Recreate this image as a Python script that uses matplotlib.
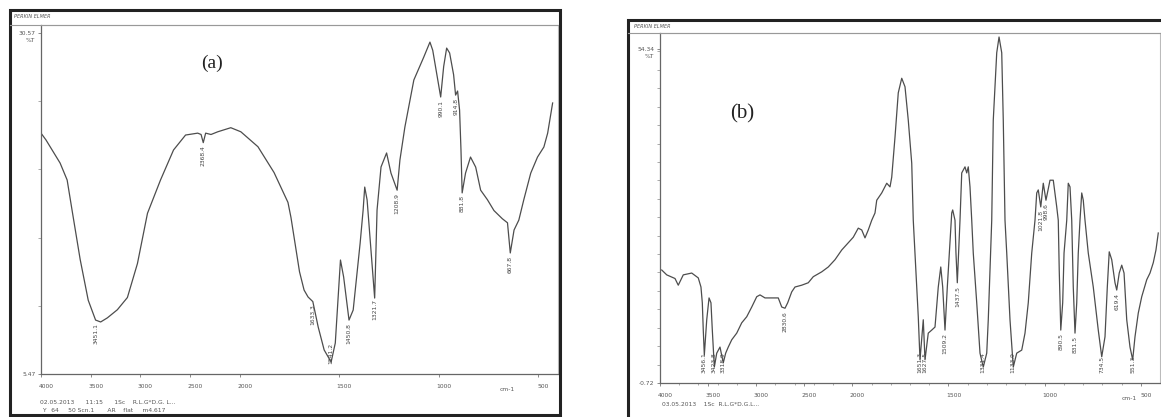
import numpy as np
import matplotlib.pyplot as plt
from matplotlib.patches import Rectangle
from matplotlib.lines import Line2D
from matplotlib.transforms import ScaledTranslation

W, H = 1161, 417

# ---- spectrum (a) ----
wn_a = [4000, 3950, 3808, 3737, 3687, 3606, 3525, 3451, 3400, 3333, 3232, 3131,
        3030, 2929, 2798, 2667, 2546, 2424, 2390, 2368, 2344, 2290, 2222, 2091,
        1995, 1909, 1828, 1758, 1743, 1700, 1677, 1657, 1633, 1606, 1576, 1541,
        1520, 1494, 1478, 1451, 1430, 1395, 1380, 1372, 1360, 1322, 1310, 1290,
        1262, 1240, 1209, 1195, 1170, 1125, 1075, 1044, 1030, 990, 975, 960,
        945, 925, 915, 905, 895, 888, 882, 865, 840, 814, 789, 755, 722, 680,
        654, 640, 621, 597, 572, 537, 503, 471, 452, 427]
t_a = [23.2, 22.7, 21.0, 19.75, 17.5, 13.9, 10.9, 9.44, 9.3, 9.6, 10.2, 11.1,
       13.6, 17.3, 19.75, 21.96, 23.06, 23.2, 23.1, 22.5, 23.2, 23.1, 23.3, 23.6,
       23.3, 22.2, 20.3, 18.1, 17.0, 13.0, 11.65, 11.14, 10.8, 8.93, 7.24, 6.35,
       7.75, 13.86, 12.61, 9.44, 10.18, 15.11, 17.54, 19.23, 18.28, 11.06, 17.54, 20.71,
       21.74, 20.26, 19.0, 21.22, 23.65, 27.11, 28.8, 29.9, 29.3, 25.86, 28.1, 29.46,
       29.1, 27.5, 26.0, 26.3, 24.9, 22.0, 18.8, 20.26, 21.44, 20.7, 19.0, 18.3, 17.5, 16.9,
       16.6, 14.38, 16.07, 16.8, 18.3, 20.26, 21.44, 22.18, 23.2, 25.42]
peaks_a = [3451.1, 2368.4, 1633.3, 1541.2, 1450.8, 1321.7, 1208.9, 990.1, 914.8, 881.8, 640.0]
peak_text_a = ["3451.1", "2368.4", "1633.3", "1541.2", "1450.8", "1321.7", "1208.9",
               "990.1", "914.8", "881.8", "667.8"]

# ---- spectrum (b) ----
wn_b = [3982, 3930, 3844, 3810, 3758, 3670, 3602, 3574, 3560, 3550, 3539, 3514,
        3490, 3470, 3456, 3435, 3410, 3376, 3342, 3317, 3290, 3254, 3202, 3150,
        3098, 3046, 2994, 2960, 2908, 2838, 2770, 2734, 2700, 2672, 2630, 2596,
        2526, 2458, 2406, 2318, 2250, 2180, 2110, 2042, 1995, 1969, 1951, 1934,
        1917, 1899, 1882, 1873, 1847, 1821, 1804, 1795, 1778, 1761, 1743, 1726,
        1709, 1691, 1683, 1665, 1657, 1648, 1631, 1622, 1605, 1587, 1570, 1553,
        1540, 1530, 1518, 1506, 1483, 1478, 1466, 1461, 1454, 1440, 1431, 1414,
        1405, 1397, 1388, 1379, 1371, 1353, 1336, 1319, 1301, 1293, 1284, 1275,
        1267, 1249, 1237, 1223, 1215, 1206, 1197, 1180, 1163, 1145, 1119, 1102,
        1085, 1067, 1050, 1041, 1033, 1020, 1007, 993, 972, 955, 937, 929,
        924, 916, 906, 899, 885, 877, 868, 859, 851, 842, 833, 825,
        816, 807, 799, 790, 773, 747, 721, 703, 686, 674, 664, 651,
        634, 625, 612, 599, 587, 573, 556, 542, 530, 513, 495, 469,
        452, 435, 421, 409]
t_b = [17.9, 17.1, 16.5, 15.4, 17.1, 17.4, 16.6, 15.1, 12.5, 8.0, 3.9, 9.7,
       13.3, 12.5, 8.0, 1.9, 4.2, 5.2, 2.6, 4.2, 5.2, 6.4, 7.5, 9.2,
       10.2, 11.8, 13.5, 13.8, 13.3, 13.3, 13.3, 11.8, 11.6, 12.5, 14.3, 15.1,
       15.4, 15.8, 16.8, 17.6, 18.4, 19.6, 21.2, 22.4, 23.3, 24.8, 24.5, 23.2,
       24.5, 26.1, 27.3, 29.4, 30.6, 32.2, 31.6, 33.2, 39.8, 47.1, 49.5, 48.1,
       42.6, 35.5, 26.1, 15.1, 10.2, 3.1, 9.7, 3.1, 7.5, 8.0, 8.5, 15.1,
       18.4, 15.1, 8.0, 15.1, 27.3, 27.8, 26.1, 20.7, 15.8, 26.1, 33.9, 34.9,
       33.9, 34.9, 31.6, 26.1, 20.7, 12.5, 4.2, 1.9, 4.2, 9.7, 17.9, 26.1,
       42.6, 53.7, 56.3, 53.7, 42.6, 26.1, 20.7, 9.7, 1.9, 4.2, 4.7, 7.5,
       12.5, 20.7, 26.1, 30.6, 31.1, 28.3, 32.2, 29.4, 32.7, 32.7, 28.3, 26.1,
       17.9, 8.0, 12.5, 20.7, 26.1, 32.2, 31.6, 26.1, 15.1, 7.5, 12.5, 20.7,
       26.1, 30.6, 29.4, 26.1, 20.7, 15.1, 8.0, 3.6, 6.9, 15.1, 20.9, 19.6,
       15.8, 14.6, 17.4, 18.7, 17.4, 9.7, 5.2, 3.1, 6.9, 10.8, 13.5, 16.3,
       17.4, 19.1, 21.2, 24.0]
peaks_b = [3539, 3435, 3342, 2700, 1648, 1622, 1518, 1454, 1319, 1163, 1020, 993,
           916, 842, 703, 625, 542]
peak_text_b = ["3456.1", "3423.8", "3318.9", "2830.6", "1651.3", "1627.5", "1509.2",
               "1437.5", "1331.4", "1133.9", "1021.8", "998.6", "890.5", "831.5",
               "734.5", "619.4", "551.3"]

xticks = [4000, 3500, 3000, 2500, 2000, 1500, 1000, 500]
xtick_labels = ["4000", "3500", "3000", "2500", "2000", "1500", "1000", "500"]


def fwd(w):
    w = np.asarray(w, dtype=float)
    return np.where(w >= 2000, w + 2000, 2 * w)


def inv(s):
    s = np.asarray(s, dtype=float)
    return np.where(s >= 4000, s - 2000, s / 2)


def px_box(x0, y0, x1, y1):
    return [x0 / W, 1 - y1 / H, (x1 - x0) / W, (y1 - y0) / H]


def fig_line(x0, y0, x1, y1, **kw):
    fig.add_artist(Line2D([x0 / W, x1 / W], [1 - y0 / H, 1 - y1 / H],
                          transform=fig.transFigure, **kw))


def fig_text(x, y, s, **kw):
    fig.text(x / W, 1 - y / H, s, **kw)


fig = plt.figure(figsize=(W / 100, H / 100), dpi=100)

gray = "#555555"
small = dict(fontsize=4.3, color="#555555", family="DejaVu Sans")


def setup(ax, ylo, yhi, ytop_lab, cm_pos, minor_y=None, minor_x=None):
    ax.set_xscale("function", functions=(fwd, inv))
    ax.set_xlim(4000, 400)
    ax.set_ylim(ylo, yhi)
    for s in ["top", "right"]:
        ax.spines[s].set_color("#bbbbbb")
        ax.spines[s].set_linewidth(0.8)
    for s in ["left", "bottom"]:
        ax.spines[s].set_color("#666666")
        ax.spines[s].set_linewidth(0.9)
    ax.set_xticks(xticks)
    ax.set_xticklabels(xtick_labels, fontsize=4.3, color=gray)
    ax.tick_params(axis="x", length=2.5, width=0.6, color="#777777", pad=5)
    ax.set_yticks([ylo, ytop_lab])
    ax.set_yticklabels([f"{ylo:.2f}", f"{ytop_lab:.2f}"], fontsize=4.3, color=gray)
    ax.tick_params(axis="y", length=2.5, width=0.6, color="#777777", pad=1.5)
    if minor_y is not None:
        ax.set_yticks(minor_y, minor=True)
        ax.tick_params(axis="y", which="minor", length=2, width=0.5, color="#888888")
    if minor_x is not None:
        ax.set_xticks(minor_x, minor=True)
        ax.tick_params(axis="x", which="minor", length=1.5, width=0.5, color="#888888")
    # instrument prints the wavenumber labels a little right of their ticks
    shift = ScaledTranslation(0.05, 0, fig.dpi_scale_trans)
    for lab in ax.get_xticklabels():
        lab.set_transform(lab.get_transform() + shift)
    ax.annotate("%T", xy=(0, ytop_lab), xycoords=ax.get_yaxis_transform(),
                xytext=(-4, -3.5), textcoords="offset points",
                ha="right", va="top", **small)
    ax.text(cm_pos, -0.036, "cm-1", transform=ax.get_xaxis_transform(),
            ha="center", va="top", **small)


def label_peaks(ax, wn, t, peaks, texts, ylo, yhi, height_px):
    order = np.argsort(wn)
    per_px = (yhi - ylo) / height_px
    for p, s in zip(peaks, texts):
        y = np.interp(p, np.asarray(wn)[order], np.asarray(t)[order])
        text_px = 3.4 * len(s) + 2
        if (y - ylo) / per_px - 2 - text_px < 10:
            # no room below the dip: the label sits just above the axis line
            ax.annotate(s, xy=(p, ylo), xytext=(0, 7.5), textcoords="offset points",
                        rotation=90, ha="center", va="bottom", fontsize=4.3, color="#444444")
        else:
            ax.annotate(s, xy=(p, y), xytext=(0, -2), textcoords="offset points",
                        rotation=90, ha="center", va="top", fontsize=4.3, color="#444444")


# ---------- panel (a) ----------
fig.add_artist(Rectangle((10 / W, 1 - 415 / H), 550 / W, 405 / H, transform=fig.transFigure,
                         fill=False, lw=2.2, ec="#222222"))
fig_line(10, 24.5, 558, 24.5, color="#999999", lw=0.8)
fig_text(14, 16, "PERKIN ELMER", fontsize=3.6, color="#555555", style="italic", va="center")

ax1 = fig.add_axes(px_box(41, 25, 558, 374))
ax1.plot(wn_a, t_a, color="#4d4d4d", lw=0.9)
setup(ax1, 5.47, 31.16, 30.57, 657,
      minor_y=np.linspace(5.47, 30.57, 6))
label_peaks(ax1, wn_a, t_a, peaks_a, peak_text_a, 5.47, 31.16, 349)
ax1.text(0.33, 0.89, "(a)", transform=ax1.transAxes, fontsize=14,
         family="Liberation Serif", ha="center", va="center", color="#222222")
fig_text(40, 402, "02.05.2013      11:15      1Sc    R.L.G*D.G. L...", va="center", **small)
fig_text(42, 410, "Y   64     50 Scn.1       AR    flat     m4.617", va="center", **small)

# ---------- panel (b) ----------
fig.add_artist(Rectangle((628 / W, 1 - 440 / H), 560 / W, 420 / H, transform=fig.transFigure,
                         fill=False, lw=2.2, ec="#222222"))
fig_line(628, 33, 1160, 33, color="#999999", lw=0.8)
fig_text(634, 26, "PERKIN ELMER", fontsize=3.6, color="#555555", style="italic", va="center")

ax2 = fig.add_axes(px_box(660, 33, 1160, 383))
ax2.plot(wn_b, t_b, color="#4d4d4d", lw=0.9)
minor_x_b = list(range(4000, 2000, -200)) + list(range(2000, 400, -100))
setup(ax2, -0.72, 56.96, 54.34, 560,
      minor_y=np.linspace(-0.72, 56.96, 20), minor_x=minor_x_b)
label_peaks(ax2, wn_b, t_b, peaks_b, peak_text_b, -0.72, 56.96, 350)
ax2.text(0.165, 0.77, "(b)", transform=ax2.transAxes, fontsize=15,
         family="Liberation Serif", ha="center", va="center", color="#222222")
fig_text(662, 405, "03.05.2013    1Sc  R.L.G*D.G.L...", va="center", **small)

fig.savefig("out.png", dpi=100)
